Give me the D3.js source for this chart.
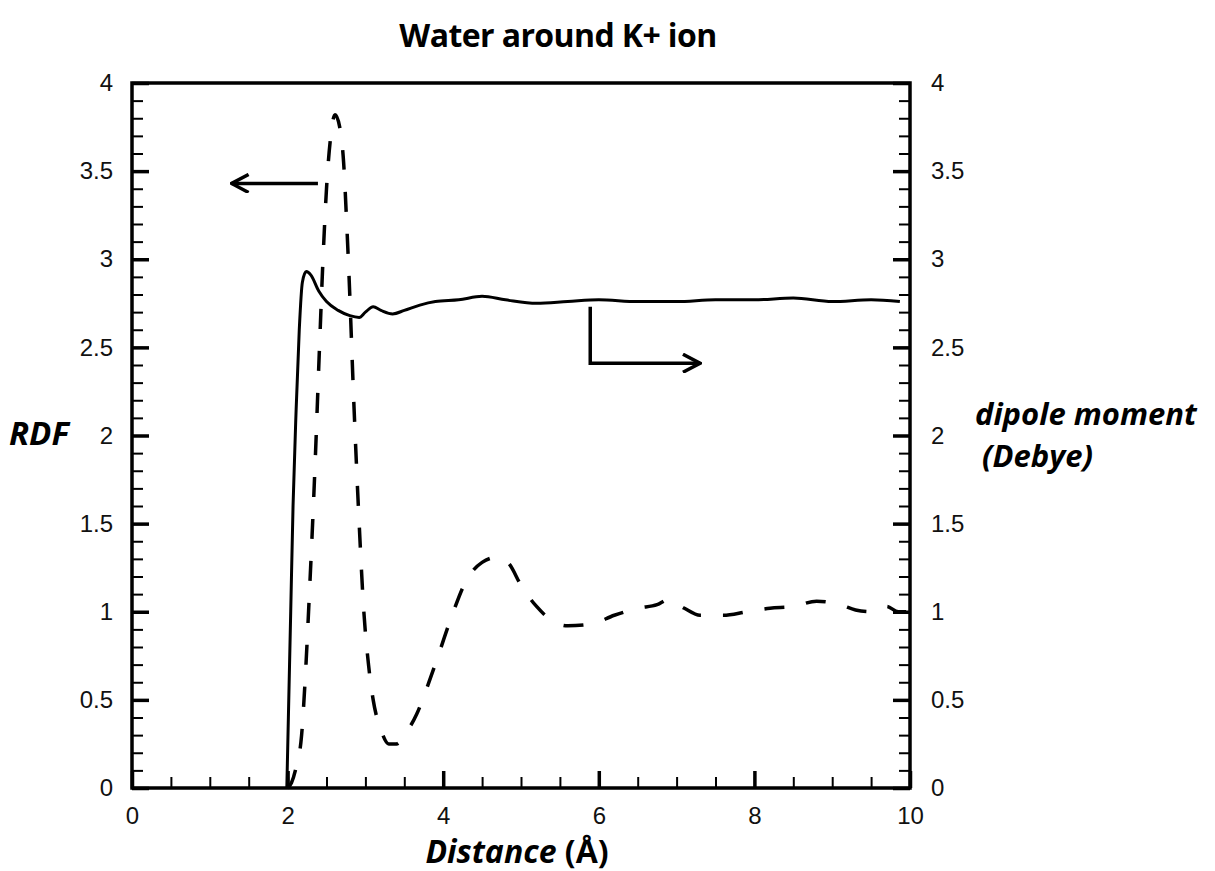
<!DOCTYPE html>
<html>
<head>
<meta charset="utf-8">
<script src="https://cdn.jsdelivr.net/npm/d3@7"></script>
<style>
	body { margin: 0; background: #fff; }
	.tick text { font-family: "Liberation Sans", Arial, sans-serif; font-size: 24px; fill: #111; }
	.lbl { font-family: "Open Sans", sans-serif; font-weight: bold; fill: #000; }
</style>
</head>
<body>
<svg id="chart" width="1215" height="871"></svg>
<script>
// RDF of water around K+ (dashed, left axis)
const rdf_x = [2.0, 2.05, 2.1, 2.18, 2.22, 2.28, 2.35, 2.41, 2.46, 2.5, 2.55, 2.61, 2.67, 2.72, 2.76, 2.79, 2.85, 2.92, 2.98, 3.04, 3.1, 3.2, 3.3, 3.4, 3.5, 3.66, 3.8, 3.92, 4.09, 4.3, 4.5, 4.7, 4.85, 5.0, 5.2, 5.4, 5.6, 5.9, 6.2, 6.5, 6.75, 6.9, 7.1, 7.3, 7.6, 7.9, 8.2, 8.5, 8.8, 9.1, 9.3, 9.5, 9.7, 9.85, 10.0];
const rdf_y = [0, 0.03, 0.1, 0.3, 0.57, 1.1, 1.8, 2.5, 3.05, 3.4, 3.68, 3.82, 3.75, 3.55, 3.2, 2.9, 2.2, 1.5, 1.0, 0.7, 0.5, 0.33, 0.25, 0.25, 0.3, 0.42, 0.58, 0.73, 0.95, 1.18, 1.28, 1.31, 1.27, 1.15, 1.03, 0.95, 0.92, 0.93, 0.98, 1.02, 1.04, 1.07, 1.02, 0.98, 0.98, 1.0, 1.02, 1.03, 1.06, 1.04, 1.01, 1.0, 1.03, 1.0, 1.0];

// dipole moment (solid, right axis)
const dip_x = [1.99, 2.01, 2.04, 2.07, 2.11, 2.15, 2.19, 2.24, 2.3, 2.4, 2.5, 2.65, 2.8, 2.92, 3.0, 3.1, 3.2, 3.35, 3.5, 3.7, 3.9, 4.2, 4.5, 4.8, 5.2, 5.6, 6.0, 6.5, 7.0, 7.5, 8.0, 8.5, 9.0, 9.5, 9.87];
const dip_y = [0, 0.4, 1.0, 1.6, 2.15, 2.6, 2.87, 2.93, 2.91, 2.82, 2.76, 2.71, 2.68, 2.67, 2.7, 2.73, 2.71, 2.69, 2.71, 2.74, 2.76, 2.77, 2.79, 2.77, 2.75, 2.76, 2.77, 2.76, 2.76, 2.77, 2.77, 2.78, 2.76, 2.77, 2.76];

const x_ticks = [0, 2, 4, 6, 8, 10];
const y_ticks = [0, 0.5, 1, 1.5, 2, 2.5, 3, 3.5, 4];

// annotation arrows in data units
const arrow_left = [[2.39, 3.43], [1.28, 3.43]];
const arrow_right = [[5.89, 2.73], [5.89, 2.41], [7.3, 2.41]];

const svg = d3.select("#chart");
const m = {left: 132, right: 910, top: 83, bottom: 788};

const x = d3.scaleLinear().domain([0, 10]).range([m.left, m.right]);
const y = d3.scaleLinear().domain([0, 4]).range([m.bottom, m.top]);
const y2 = d3.scaleLinear().domain([0, 4]).range([m.bottom, m.top]);

const fmt = d => String(d);
const minor_y = d3.range(0, 41).map(d => d / 10);

// minor ticks
svg.append("g")
	.attr("transform", "translate(0," + m.bottom + ")")
	.call(d3.axisBottom(x).tickValues(d3.range(0, 10.01, 0.5)).tickSize(-11).tickFormat(""))
	.call(g => g.select(".domain").remove())
	.selectAll("line").attr("stroke-width", 2);
svg.append("g")
	.attr("transform", "translate(" + m.left + ",0)")
	.call(d3.axisLeft(y).tickValues(minor_y).tickSize(-11).tickFormat(""))
	.call(g => g.select(".domain").remove())
	.selectAll("line").attr("stroke-width", 2);
svg.append("g")
	.attr("transform", "translate(" + m.right + ",0)")
	.call(d3.axisRight(y2).tickValues(minor_y).tickSize(-11).tickFormat(""))
	.call(g => g.select(".domain").remove())
	.selectAll("line").attr("stroke-width", 2);

// major ticks + labels
svg.append("g")
	.attr("transform", "translate(0," + m.bottom + ")")
	.call(d3.axisBottom(x).tickValues(x_ticks).tickSize(-17).tickPadding(19).tickFormat(fmt))
	.call(g => g.select(".domain").remove())
	.selectAll("line").attr("stroke-width", 3.5);
svg.append("g")
	.attr("transform", "translate(" + m.left + ",0)")
	.call(d3.axisLeft(y).tickValues(y_ticks).tickSize(-17).tickPadding(19).tickFormat(fmt))
	.call(g => g.select(".domain").remove())
	.selectAll("line").attr("stroke-width", 3.5);
svg.append("g")
	.attr("transform", "translate(" + m.right + ",0)")
	.call(d3.axisRight(y2).tickValues(y_ticks).tickSize(-17).tickPadding(21).tickFormat(fmt))
	.call(g => g.select(".domain").remove())
	.selectAll("line").attr("stroke-width", 3.5);

// frame
svg.append("rect")
	.attr("x", m.left).attr("y", m.top)
	.attr("width", m.right - m.left).attr("height", m.bottom - m.top)
	.attr("fill", "none").attr("stroke", "#000").attr("stroke-width", 3.5);

// curves
const line_rdf = d3.line().x(d => x(d[0])).y(d => y(d[1])).curve(d3.curveMonotoneX);
const line_dip = d3.line().x(d => x(d[0])).y(d => y2(d[1])).curve(d3.curveMonotoneX);

svg.append("path")
	.datum(rdf_x.map((v, i) => [v, rdf_y[i]]))
	.attr("d", line_rdf)
	.attr("fill", "none").attr("stroke", "#000").attr("stroke-width", 3.5)
	.attr("stroke-dasharray", "20,22");

svg.append("path")
	.datum(dip_x.map((v, i) => [v, dip_y[i]]))
	.attr("d", line_dip)
	.attr("fill", "none").attr("stroke", "#000").attr("stroke-width", 3);

// arrows
svg.append("defs").append("marker")
	.attr("id", "head")
	.attr("viewBox", "0 0 20 20")
	.attr("refX", 18).attr("refY", 10)
	.attr("markerWidth", 20).attr("markerHeight", 20)
	.attr("markerUnits", "userSpaceOnUse")
	.attr("orient", "auto")
	.append("path")
	.attr("d", "M1,1 L18,10 L1,19")
	.attr("fill", "none").attr("stroke", "#000").attr("stroke-width", 3.5);

const arrow_line = d3.line().x(d => x(d[0])).y(d => y(d[1]));
[arrow_left, arrow_right].forEach(a => {
	svg.append("path")
		.attr("d", arrow_line(a))
		.attr("fill", "none").attr("stroke", "#000").attr("stroke-width", 3.5)
		.attr("marker-end", "url(#head)");
});

// texts
svg.append("text").attr("class", "lbl")
	.attr("x", 558).attr("y", 47).attr("text-anchor", "middle")
	.style("font-size", "32px").style("letter-spacing", "-0.6px")
	.text("Water around K+ ion");

const xl = svg.append("text").attr("class", "lbl")
	.attr("x", 517).attr("y", 863).attr("text-anchor", "middle")
	.style("font-size", "32px");
xl.append("tspan").style("font-style", "italic").text("Distance");
xl.append("tspan").text(" (Å)");

svg.append("text").attr("class", "lbl")
	.attr("x", 9).attr("y", 445)
	.style("font-size", "33px").style("font-style", "italic")
	.text("RDF");

svg.append("text").attr("class", "lbl")
	.attr("x", 975).attr("y", 425)
	.style("font-size", "31px").style("font-style", "italic")
	.text("dipole moment");
svg.append("text").attr("class", "lbl")
	.attr("x", 982).attr("y", 467)
	.style("font-size", "31px").style("font-style", "italic")
	.text("(Debye)");
</script>
</body>
</html>
